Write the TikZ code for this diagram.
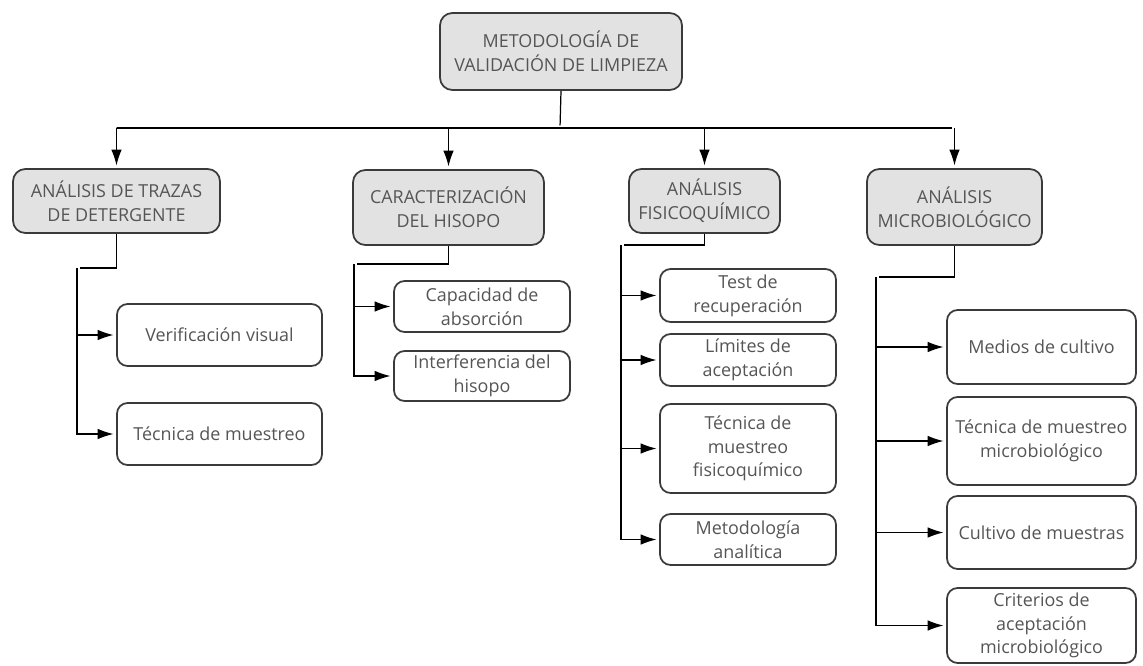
\documentclass[tikz,border=0pt]{standalone}
\usepackage{fontspec}
\setmainfont{Open Sans}
\usetikzlibrary{arrows.meta}

\definecolor{boxline}{HTML}{3A3A3A}
\definecolor{boxfill}{HTML}{E2E2E2}
\definecolor{boxtext}{HTML}{555555}

\tikzset{
  topbox/.style={draw=boxline, line width=1pt, fill=boxfill, rounded corners=7pt,
    align=center, text=boxtext, font=\fontsize{10.2}{13.5}\selectfont, inner sep=1pt},
  subbox/.style={draw=boxline, line width=1pt, fill=white, rounded corners=6pt,
    align=center, text=boxtext, font=\fontsize{10.2}{13.5}\selectfont, inner sep=1pt},
  link/.style={line width=0.7pt, shorten >=1.5pt}
}

\begin{document}
\begin{tikzpicture}[x=0.02cm, y=-0.02cm, >={Latex[length=9pt,width=6pt]}]
    \useasboundingbox (0,0) rectangle (1143,666);

    % root and first level
    \node[topbox, minimum width=4.84cm, minimum height=1.54cm] (root) at (561,51.5)
        {METODOLOGÍA DE\\VALIDACIÓN DE LIMPIEZA};
    \node[topbox, minimum width=4.14cm, minimum height=1.28cm] (traz) at (116.5,201)
        {ANÁLISIS DE TRAZAS\\DE DETERGENTE};
    \node[topbox, minimum width=3.82cm, minimum height=1.5cm] (hiso) at (448.5,207.5)
        {CARACTERIZACIÓN\\DEL HISOPO};
    \node[topbox, minimum width=3.02cm, minimum height=1.28cm] (fisi) at (704.5,201)
        {ANÁLISIS\\FISICOQUÍMICO};
    \node[topbox, minimum width=3.5cm, minimum height=1.52cm] (micr) at (954.5,207)
        {ANÁLISIS\\MICROBIOLÓGICO};

    \coordinate (hub) at (560,128);
    \draw[link] (root.south) -- (hub);
    \draw[link] (hub) -| (traz.north |- hub) -- (micr.north |- hub);
    \foreach \n in {traz,hiso,fisi,micr}
        \draw[link,->] (\n.north |- hub) -- (\n.north);

    % detergente
    \node[subbox, minimum width=4.1cm, minimum height=1.24cm] (vvis) at (219.5,335) {Verificación visual};
    \node[subbox, minimum width=4.1cm, minimum height=1.24cm] (tmue) at (219.5,434) {Técnica de muestreo};
    \coordinate (tr1) at (77,268);
    \draw[link] (traz.south) |- (tr1);
    \draw[link,->] (tr1) |- (tmue.west);
    \draw[link,->] (tr1 |- vvis.west) -- (vvis.west);

    % hisopo
    \node[subbox, minimum width=3.52cm, minimum height=1.02cm] (cabs) at (482,306.5) {Capacidad de\\absorción};
    \node[subbox, minimum width=3.52cm, minimum height=1.0cm] (cint) at (482,376) {Interferencia del\\hisopo};
    \coordinate (tr2) at (354,264);
    \draw[link] (hiso.south) |- (tr2);
    \draw[link,->] (tr2) |- (cint.west);
    \draw[link,->] (tr2 |- cabs.west) -- (cabs.west);

    % fisicoquimico
    \node[subbox, minimum width=3.52cm, minimum height=1.06cm] (ftes) at (748,295.5) {Test de\\recuperación};
    \node[subbox, minimum width=3.52cm, minimum height=1.04cm] (flim) at (748,360) {Límites de\\aceptación};
    \node[subbox, minimum width=3.52cm, minimum height=1.78cm] (ftec) at (748,448.5) {Técnica de\\muestreo\\fisicoquímico};
    \node[subbox, minimum width=3.52cm, minimum height=1.02cm] (fmet) at (748,539.5) {Metodología\\analítica};
    \coordinate (tr3) at (621,245);
    \draw[link] (fisi.south) |- (tr3);
    \draw[link,->] (tr3) |- (fmet.west);
    \foreach \n in {ftes,flim,ftec}
        \draw[link,->] (tr3 |- \n.west) -- (\n.west);

    % microbiologico
    \node[subbox, minimum width=3.78cm, minimum height=1.48cm] (mmed) at (1041.5,347) {Medios de cultivo};
    \node[subbox, minimum width=3.78cm, minimum height=1.76cm] (mtec) at (1041.5,441) {Técnica de muestreo\\microbiológico};
    \node[subbox, minimum width=3.78cm, minimum height=1.46cm] (mcul) at (1041.5,532.5) {Cultivo de muestras};
    \node[subbox, minimum width=3.78cm, minimum height=1.5cm] (mcri) at (1041.5,625.5) {Criterios de\\aceptación\\microbiológico};
    \coordinate (tr4) at (876,277);
    \draw[link] (micr.south) |- (tr4);
    \draw[link,->] (tr4) |- (mcri.west);
    \foreach \n in {mmed,mtec,mcul}
        \draw[link,->] (tr4 |- \n.west) -- (\n.west);
\end{tikzpicture}
\end{document}
